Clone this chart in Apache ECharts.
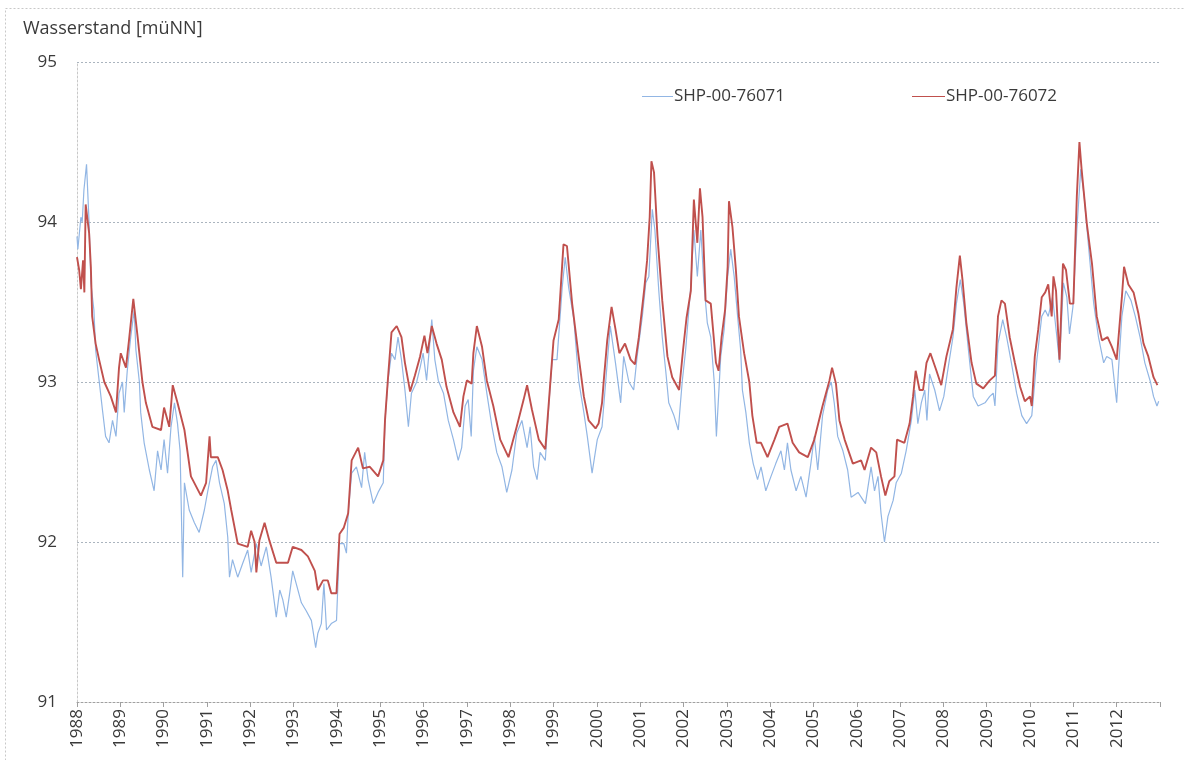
<!DOCTYPE html>
<html>
<head>
<meta charset="utf-8">
<script src="https://cdn.jsdelivr.net/npm/echarts@6/dist/echarts.min.js"></script>
<style>
  html, body { margin: 0; background: #fff; }
  #chart { width: 1185px; height: 760px; }
</style>
</head>
<body>
<div id="chart"></div>
<script>
// Wasserstand [müNN], Jahr als Dezimalzahl
const seriesNames = ["SHP-00-76071", "SHP-00-76072"];
const yearMin = 1988;
const yearMax = 2013;
const levelMin = 91;
const levelMax = 95;

// Messstelle SHP-00-76071 (hellblau)
const shp76071 = [
  [1988.00,93.91],[1988.02,93.83],[1988.09,94.03],[1988.12,94.00],[1988.16,94.20],[1988.22,94.36],[1988.28,93.99],[1988.32,93.62],
  [1988.39,93.45],[1988.43,93.20],[1988.51,93.01],[1988.59,92.82],[1988.66,92.66],[1988.74,92.62],[1988.82,92.76],[1988.90,92.66],
  [1988.97,92.93],[1989.05,93.00],[1989.09,92.81],[1989.16,93.07],[1989.24,93.28],[1989.32,93.45],[1989.36,93.20],[1989.44,93.00],
  [1989.47,92.81],[1989.55,92.62],[1989.67,92.45],[1989.78,92.32],[1989.86,92.57],[1989.94,92.45],[1990.01,92.64],[1990.09,92.43],
  [1990.17,92.72],[1990.25,92.87],[1990.32,92.74],[1990.38,92.57],[1990.44,91.78],[1990.48,92.37],[1990.59,92.20],[1990.71,92.12],
  [1990.82,92.06],[1990.94,92.20],[1991.02,92.32],[1991.13,92.47],[1991.21,92.51],[1991.29,92.37],[1991.40,92.24],[1991.48,92.03],
  [1991.52,91.78],[1991.59,91.89],[1991.71,91.78],[1991.83,91.87],[1991.94,91.95],[1992.02,91.81],[1992.14,91.99],[1992.25,91.85],
  [1992.37,91.97],[1992.48,91.78],[1992.60,91.53],[1992.68,91.70],[1992.75,91.64],[1992.83,91.53],[1992.91,91.68],[1992.98,91.82],
  [1993.06,91.74],[1993.18,91.62],[1993.29,91.57],[1993.41,91.51],[1993.51,91.34],[1993.56,91.43],[1993.64,91.49],[1993.70,91.74],
  [1993.76,91.45],[1993.87,91.49],[1993.99,91.51],[1994.06,91.99],[1994.16,91.99],[1994.22,91.93],[1994.26,92.18],[1994.34,92.43],
  [1994.45,92.47],[1994.57,92.34],[1994.64,92.56],[1994.72,92.39],[1994.84,92.24],[1994.95,92.31],[1995.07,92.37],[1995.11,92.76],
  [1995.18,93.01],[1995.26,93.18],[1995.34,93.14],[1995.41,93.28],[1995.49,93.14],[1995.57,92.95],[1995.65,92.72],[1995.72,92.93],
  [1995.84,93.00],[1995.92,93.09],[1995.99,93.18],[1996.07,93.01],[1996.19,93.39],[1996.26,93.14],[1996.34,93.01],[1996.46,92.93],
  [1996.57,92.76],[1996.69,92.64],[1996.80,92.51],[1996.88,92.59],[1996.96,92.85],[1997.03,92.89],[1997.10,92.66],[1997.15,93.07],
  [1997.23,93.22],[1997.35,93.14],[1997.46,92.93],[1997.58,92.72],[1997.69,92.56],[1997.81,92.47],[1997.92,92.31],[1998.04,92.45],
  [1998.15,92.68],[1998.27,92.76],[1998.39,92.59],[1998.46,92.72],[1998.54,92.47],[1998.62,92.39],[1998.69,92.56],[1998.81,92.51],
  [1998.89,92.85],[1998.97,93.14],[1999.08,93.14],[1999.20,93.59],[1999.27,93.78],[1999.35,93.59],[1999.47,93.39],[1999.58,93.01],
  [1999.70,92.81],[1999.78,92.66],[1999.89,92.43],[2000.01,92.64],[2000.12,92.72],[2000.24,93.12],[2000.31,93.35],[2000.43,93.12],
  [2000.55,92.87],[2000.62,93.16],[2000.74,93.00],[2000.85,92.95],[2000.93,93.16],[2001.05,93.41],[2001.13,93.62],[2001.20,93.66],
  [2001.28,94.08],[2001.34,93.95],[2001.43,93.57],[2001.51,93.28],[2001.59,93.07],[2001.66,92.87],[2001.78,92.79],[2001.88,92.70],
  [2001.97,93.00],[2002.05,93.20],[2002.16,93.57],[2002.24,93.95],[2002.32,93.66],[2002.40,93.95],[2002.47,93.62],[2002.55,93.37],
  [2002.63,93.28],[2002.71,93.00],[2002.76,92.66],[2002.86,93.16],[2002.94,93.33],[2003.02,93.66],[2003.09,93.83],[2003.17,93.66],
  [2003.25,93.41],[2003.32,93.20],[2003.36,92.95],[2003.44,92.81],[2003.52,92.62],[2003.61,92.49],[2003.71,92.39],[2003.79,92.47],
  [2003.90,92.32],[2004.02,92.41],[2004.13,92.49],[2004.25,92.57],[2004.33,92.45],[2004.40,92.62],[2004.48,92.45],[2004.60,92.32],
  [2004.71,92.41],[2004.83,92.28],[2004.94,92.49],[2005.02,92.66],[2005.10,92.45],[2005.21,92.79],[2005.33,92.95],[2005.41,93.00],
  [2005.48,92.87],[2005.56,92.66],[2005.68,92.57],[2005.79,92.45],[2005.87,92.28],[2006.03,92.31],[2006.20,92.24],[2006.33,92.47],
  [2006.41,92.32],[2006.49,92.41],[2006.56,92.18],[2006.64,92.00],[2006.72,92.16],[2006.84,92.26],[2006.91,92.37],[2007.03,92.43],
  [2007.14,92.57],[2007.26,92.76],[2007.34,92.95],[2007.41,92.74],[2007.49,92.87],[2007.57,92.95],[2007.62,92.76],[2007.68,93.05],
  [2007.80,92.95],[2007.91,92.82],[2008.01,92.91],[2008.11,93.09],[2008.22,93.28],[2008.30,93.49],[2008.39,93.64],[2008.47,93.49],
  [2008.57,93.22],[2008.69,92.91],[2008.80,92.85],[2008.96,92.87],[2009.07,92.91],[2009.15,92.93],[2009.19,92.85],[2009.26,93.24],
  [2009.37,93.39],[2009.46,93.28],[2009.57,93.12],[2009.69,92.93],[2009.81,92.79],[2009.92,92.74],[2010.04,92.79],[2010.15,93.12],
  [2010.27,93.41],[2010.35,93.45],[2010.42,93.41],[2010.52,93.53],[2010.62,93.28],[2010.68,93.12],[2010.77,93.62],[2010.85,93.53],
  [2010.91,93.30],[2010.99,93.47],[2011.08,93.95],[2011.17,94.33],[2011.25,94.16],[2011.35,93.85],[2011.47,93.49],[2011.58,93.28],
  [2011.70,93.12],[2011.77,93.16],[2011.89,93.14],[2012.00,92.87],[2012.04,93.07],[2012.12,93.41],[2012.21,93.57],[2012.33,93.51],
  [2012.43,93.41],[2012.54,93.28],[2012.65,93.12],[2012.78,93.00],[2012.85,92.91],[2012.93,92.85],[2012.97,92.88]
];

// Messstelle SHP-00-76072 (rot)
const shp76072 = [
  [1988.00,93.78],[1988.05,93.70],[1988.09,93.58],[1988.14,93.76],[1988.17,93.56],[1988.20,94.11],[1988.28,93.93],[1988.32,93.72],
  [1988.35,93.41],[1988.43,93.24],[1988.51,93.14],[1988.63,93.00],[1988.78,92.91],[1988.90,92.81],[1988.97,93.09],[1989.01,93.18],
  [1989.13,93.09],[1989.20,93.26],[1989.30,93.52],[1989.40,93.28],[1989.51,93.00],[1989.59,92.87],[1989.74,92.72],[1989.94,92.70],
  [1990.01,92.84],[1990.13,92.72],[1990.21,92.98],[1990.32,92.87],[1990.48,92.70],[1990.63,92.41],[1990.86,92.29],[1990.98,92.37],
  [1991.06,92.66],[1991.09,92.53],[1991.25,92.53],[1991.36,92.45],[1991.48,92.32],[1991.56,92.20],[1991.71,91.99],[1991.94,91.97],
  [1992.02,92.07],[1992.10,92.00],[1992.14,91.81],[1992.21,92.01],[1992.33,92.12],[1992.44,92.01],[1992.60,91.87],[1992.87,91.87],
  [1992.98,91.97],[1993.18,91.95],[1993.33,91.91],[1993.49,91.82],[1993.56,91.70],[1993.68,91.76],[1993.79,91.76],[1993.87,91.68],
  [1993.99,91.68],[1994.06,92.05],[1994.16,92.09],[1994.26,92.18],[1994.34,92.51],[1994.49,92.59],[1994.60,92.46],[1994.76,92.47],
  [1994.95,92.41],[1995.07,92.51],[1995.11,92.76],[1995.18,93.03],[1995.26,93.31],[1995.38,93.35],[1995.49,93.28],[1995.57,93.12],
  [1995.69,92.94],[1995.80,93.04],[1995.92,93.16],[1996.02,93.29],[1996.09,93.18],[1996.19,93.35],[1996.30,93.24],[1996.42,93.14],
  [1996.53,92.97],[1996.69,92.81],[1996.84,92.72],[1996.92,92.91],[1997.00,93.01],[1997.11,92.99],[1997.15,93.18],[1997.23,93.35],
  [1997.35,93.22],[1997.46,93.01],[1997.61,92.85],[1997.77,92.64],[1997.96,92.53],[1998.15,92.72],[1998.31,92.89],[1998.39,92.98],
  [1998.50,92.83],[1998.66,92.64],[1998.81,92.58],[1998.93,93.01],[1999.00,93.26],[1999.12,93.39],[1999.23,93.86],[1999.31,93.85],
  [1999.43,93.49],[1999.58,93.16],[1999.70,92.91],[1999.81,92.76],[1999.97,92.71],[2000.04,92.74],[2000.12,92.87],[2000.16,93.01],
  [2000.24,93.26],[2000.34,93.47],[2000.43,93.33],[2000.52,93.18],[2000.65,93.24],[2000.78,93.14],[2000.88,93.11],[2000.97,93.28],
  [2001.09,93.57],[2001.16,93.76],[2001.22,94.03],[2001.26,94.38],[2001.32,94.31],[2001.40,93.91],[2001.51,93.51],[2001.63,93.16],
  [2001.74,93.03],[2001.90,92.95],[2001.99,93.20],[2002.07,93.40],[2002.17,93.57],[2002.24,94.14],[2002.32,93.87],[2002.38,94.21],
  [2002.44,94.03],[2002.51,93.51],[2002.63,93.49],[2002.75,93.12],[2002.81,93.07],[2002.88,93.28],[2002.96,93.45],[2003.02,93.72],
  [2003.05,94.13],[2003.13,93.97],[2003.21,93.70],[2003.28,93.41],[2003.40,93.18],[2003.52,93.00],[2003.59,92.79],[2003.69,92.62],
  [2003.79,92.62],[2003.94,92.53],[2004.10,92.64],[2004.21,92.72],[2004.40,92.74],[2004.52,92.62],[2004.67,92.56],[2004.87,92.53],
  [2005.02,92.64],[2005.21,92.85],[2005.37,93.01],[2005.43,93.09],[2005.52,92.99],[2005.60,92.76],[2005.72,92.64],[2005.91,92.49],
  [2006.10,92.51],[2006.18,92.45],[2006.33,92.59],[2006.45,92.56],[2006.56,92.41],[2006.66,92.29],[2006.75,92.38],[2006.87,92.41],
  [2006.93,92.64],[2007.10,92.62],[2007.22,92.74],[2007.30,92.91],[2007.36,93.07],[2007.45,92.95],[2007.53,92.95],[2007.61,93.12],
  [2007.70,93.18],[2007.84,93.07],[2007.95,92.98],[2008.07,93.16],[2008.22,93.33],[2008.30,93.59],[2008.38,93.79],[2008.44,93.64],
  [2008.53,93.37],[2008.65,93.12],[2008.76,92.99],[2008.92,92.96],[2009.07,93.01],[2009.19,93.04],[2009.26,93.41],[2009.34,93.51],
  [2009.42,93.49],[2009.53,93.28],[2009.65,93.12],[2009.77,92.97],[2009.88,92.88],[2010.00,92.91],[2010.04,92.85],[2010.11,93.16],
  [2010.19,93.33],[2010.27,93.53],[2010.35,93.56],[2010.42,93.61],[2010.50,93.41],[2010.54,93.66],[2010.60,93.57],[2010.68,93.14],
  [2010.76,93.74],[2010.83,93.70],[2010.92,93.49],[2011.00,93.49],[2011.08,94.16],[2011.14,94.50],[2011.19,94.33],[2011.31,93.99],
  [2011.43,93.74],[2011.54,93.41],[2011.66,93.26],[2011.79,93.28],[2011.89,93.22],[2012.00,93.14],[2012.12,93.53],[2012.17,93.72],
  [2012.27,93.61],[2012.39,93.56],[2012.50,93.43],[2012.62,93.24],[2012.73,93.16],[2012.85,93.03],[2012.94,92.98]
];

const textColor = "#3a3a3a";
const gridColor = "#aab4be";

const chart = echarts.init(document.getElementById("chart"));

const option = {
  animation: false,
  backgroundColor: "#fff",
  textStyle: { fontFamily: "Open Sans, Noto Sans, sans-serif" },
  title: {
    text: "Wasserstand [müNN]",
    left: 18,
    top: 15,
    textStyle: { fontSize: 18, fontWeight: "normal", color: textColor }
  },
  graphic: [
    {
      // äußerer Rahmen des Diagramms
      type: "rect",
      shape: { x: 5.5, y: 8.5, width: 1190, height: 760 },
      style: { fill: "none", stroke: "#c8c8c8", lineWidth: 1, lineDash: [2, 2] },
      silent: true
    }
  ],
  legend: [
    {
      data: [seriesNames[0]],
      left: 637,
      top: 83,
      icon: "rect",
      itemWidth: 31,
      itemHeight: 1,
      textStyle: { fontSize: 17, color: textColor, padding: [0, 0, 0, -4] }
    },
    {
      data: [seriesNames[1]],
      left: 907,
      top: 83,
      icon: "rect",
      itemWidth: 33,
      itemHeight: 1,
      textStyle: { fontSize: 17, color: textColor, padding: [0, 0, 0, -4] }
    }
  ],
  grid: { left: 77, right: 25, top: 62, bottom: 58 },
  xAxis: {
    type: "value",
    min: yearMin,
    max: yearMax,
    interval: 1,
    axisLine: { show: true, lineStyle: { color: "#a0a0a0", type: [2, 2] } },
    axisTick: { show: true, length: 5, lineStyle: { color: "#a0a0a0" } },
    axisLabel: {
      rotate: 90,
      fontSize: 17,
      color: textColor,
      margin: 7,
      formatter: v => (v >= yearMax ? "" : String(v))
    },
    splitLine: { show: false }
  },
  yAxis: {
    type: "value",
    min: levelMin,
    max: levelMax,
    interval: 1,
    axisLine: { show: true, lineStyle: { color: "#c8c8c8", type: [2, 2] } },
    axisTick: { show: false },
    axisLabel: { fontSize: 17, color: textColor, margin: 20 },
    splitLine: { show: true, lineStyle: { color: gridColor, type: [2, 2], width: 1 } }
  },
  series: [
    {
      name: seriesNames[0],
      type: "line",
      data: shp76071,
      showSymbol: false,
      symbol: "none",
      color: "#92b6e4",
      lineStyle: { color: "#92b6e4", width: 1.2 },
      z: 2
    },
    {
      name: seriesNames[1],
      type: "line",
      data: shp76072,
      showSymbol: false,
      symbol: "none",
      color: "#c0504d",
      lineStyle: { color: "#c0504d", width: 1.9 },
      z: 3
    }
  ]
};

chart.setOption(option);
</script>
</body>
</html>
